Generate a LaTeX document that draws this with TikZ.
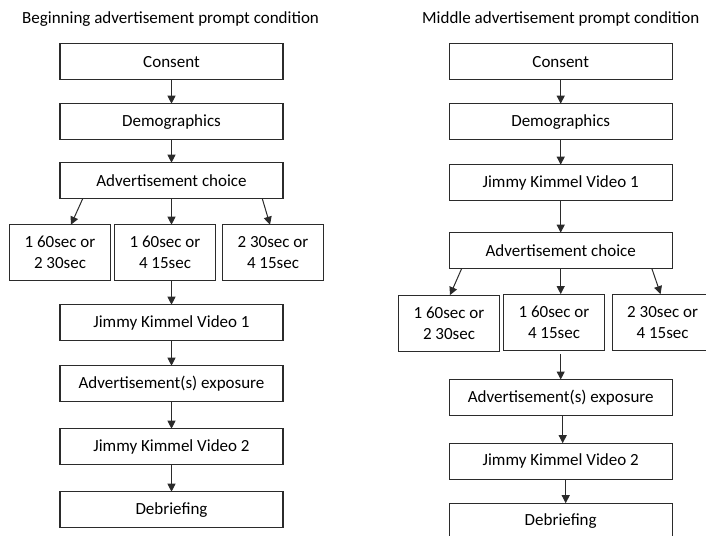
\documentclass[tikz,border=0pt]{standalone}
\usepackage{fontspec}
\setmainfont{Carlito}
\usetikzlibrary{arrows.meta,positioning,calc}
\definecolor{LineGray}{HTML}{2B2B2B}
\tikzset{
  stepbox/.style={draw=LineGray, line width=1.2pt, outer sep=0pt, minimum width=223pt, minimum height=36pt, inner sep=0pt, align=center, font=\fontsize{17}{21}\selectfont},
  optbox/.style={stepbox, minimum width=101pt, minimum height=56pt},
  titletext/.style={font=\fontsize{17}{21}\selectfont, inner sep=0pt, anchor=base west},
  arr/.style={-{Triangle[length=8pt,width=8pt]}, line width=1pt, draw=LineGray}
}
\begin{document}
\begin{tikzpicture}[x=1pt, y=-1pt, node distance=24pt]
\useasboundingbox (0,0) rectangle (706,535);
\clip (0,0) rectangle (706,535);
% beginning condition
\node[titletext] (btitle) at (22,23.3) {Beginning advertisement prompt condition};
\node[stepbox] (bcons) at (171.5,61.7) {Consent};
\node[stepbox, below=24pt of bcons] (bdemo) {Demographics};
\node[stepbox, below=23pt of bdemo] (bchoice) {Advertisement choice};
\node[optbox, below=26pt of bchoice, xshift=-6.5pt] (bmid) {1 60sec or\\4 15sec};
\node[optbox, left=4pt of bmid] (bleft) {1 60sec or\\2 30sec};
\node[optbox, right=7pt of bmid] (bright) {2 30sec or\\4 15sec};
\node[stepbox, below=24pt of bmid, xshift=6.5pt] (bjk1) {Jimmy Kimmel Video 1};
\node[stepbox, below=25pt of bjk1] (bexpo) {Advertisement(s) exposure};
\node[stepbox, below=27pt of bexpo] (bjk2) {Jimmy Kimmel Video 2};
\node[stepbox, below=27pt of bjk2] (bdebrief) {Debriefing};
\draw[arr] (bcons) -- (bdemo);
\draw[arr] (bdemo) -- (bchoice);
\draw[arr] ([xshift=22.7pt]bchoice.south west) -- ([xshift=11pt]bleft.north);
\draw[arr] (bchoice.south) -- (bchoice.south |- bmid.north);
\draw[arr] ([xshift=-20.7pt]bchoice.south east) -- ([xshift=-3pt]bright.north);
\draw[arr] (bjk1.north |- bmid.south) -- (bjk1.north);
\draw[arr] (bjk1) -- (bexpo);
\draw[arr] (bexpo) -- (bjk2);
\draw[arr] (bjk2) -- (bdebrief);
% middle condition
\node[titletext] (mtitle) at (422,23.3) {Middle advertisement prompt condition};
\node[stepbox] (mcons) at (560.7,61.7) {Consent};
\node[stepbox, below=24pt of mcons] (mdemo) {Demographics};
\node[stepbox, below=25pt of mdemo] (mjk1) {Jimmy Kimmel Video 1};
\node[stepbox, below=32pt of mjk1] (mchoice) {Advertisement choice};
\node[optbox, below=25.4pt of mchoice, xshift=-6.7pt] (mmid) {1 60sec or\\4 15sec};
\node[optbox, left=4pt of mmid, yshift=-1pt] (mleft) {1 60sec or\\2 30sec};
\node[optbox, right=7.6pt of mmid] (mright) {2 30sec or\\4 15sec};
\node[stepbox, below=29.4pt of mmid, xshift=6.7pt] (mexpo) {Advertisement(s) exposure};
\node[stepbox, below=27.7pt of mexpo] (mjk2) {Jimmy Kimmel Video 2};
\node[stepbox, below=24pt of mjk2] (mdebrief) {Debriefing};
\draw[arr] (mcons) -- (mdemo);
\draw[arr] (mdemo) -- (mjk1);
\draw[arr] (mjk1) -- (mchoice);
\draw[arr] ([xshift=12.4pt]mchoice.south west) -- ([xshift=1pt]mleft.north);
\draw[arr] (mchoice.south) -- (mchoice.south |- mmid.north);
\draw[arr] ([xshift=-20.3pt]mchoice.south east) -- ([xshift=-2pt]mright.north);
\draw[arr] ([yshift=-4pt]mexpo.north |- mmid.south) -- (mexpo.north);
\draw[arr] ([xshift=2pt]mexpo.south) -- ([xshift=2pt]mjk2.north);
\draw[arr] ([xshift=5pt]mjk2.south) -- ([xshift=5pt]mdebrief.north);
\end{tikzpicture}
\end{document}
